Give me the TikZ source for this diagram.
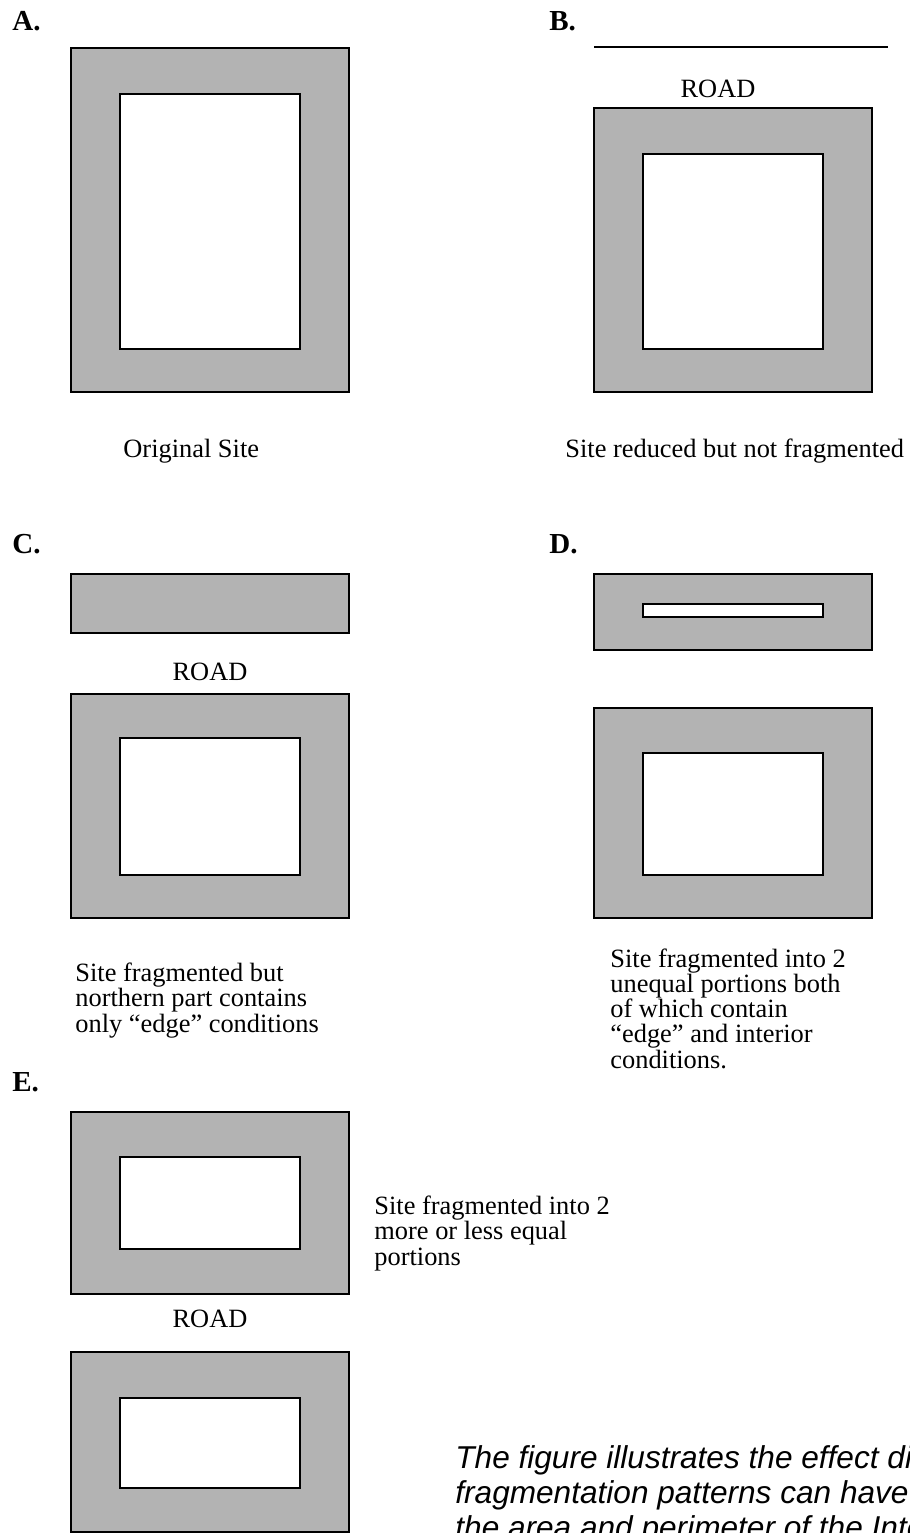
\documentclass[tikz,border=0pt]{standalone}
\usepackage{fontspec}
\setmainfont{Liberation Serif}
\newfontfamily\capfont{Liberation Sans}
\definecolor{boxgray}{RGB}{179,179,179}
\begin{document}
\begin{tikzpicture}[x=0.5pt,y=-0.5pt,
  outerbox/.style={draw=black,fill=boxgray,line width=1pt},
  innerbox/.style={draw=black,fill=white,line width=1pt},
  roadline/.style={draw=black,line width=1pt},
  txt/.style={inner sep=0pt,font=\fontsize{13.2}{12.6}\selectfont},
  lbl/.style={inner sep=0pt,anchor=base west,font=\fontsize{14.5}{14}\selectfont\bfseries},
  captext/.style={txt,anchor=base west,align=left},
  note/.style={inner sep=0pt,anchor=base west,align=left,font=\fontsize{15.8}{17.5}\selectfont\capfont\itshape}]
\useasboundingbox (0,0) rectangle (910,1533);
\clip (0,0) rectangle (910,1533);
% A
\node[lbl] (la) at (12,30) {A.};
\draw[outerbox] (71,48) rectangle (349,392);
\draw[innerbox] (120,94) rectangle (300,349);
\node[txt,anchor=base west] (capa) at (123,457) {Original Site};
% B
\node[lbl] (lb) at (549,30) {B.};
\draw[roadline] (594,47) -- (888,47);
\node[txt,anchor=base] (roadb) at (718,97) {ROAD};
\draw[outerbox] (594,108) rectangle (872,392);
\draw[innerbox] (643,154) rectangle (823,349);
\node[txt,anchor=base west] (capb) at (565,457) {Site reduced but not fragmented};
% C
\node[lbl] (lc) at (12,553) {C.};
\draw[outerbox] (71,574) rectangle (349,633);
\node[txt,anchor=base] (roadc) at (210,680) {ROAD};
\draw[outerbox] (71,694) rectangle (349,918);
\draw[innerbox] (120,738) rectangle (300,875);
\node[captext] (capc) at (75,1032) {Site fragmented but\\northern part contains\\only “edge” conditions};
% D
\node[lbl] (ld) at (549,553) {D.};
\draw[outerbox] (594,574) rectangle (872,650);
\draw[innerbox] (643,604) rectangle (823,617);
\draw[outerbox] (594,708) rectangle (872,918);
\draw[innerbox] (643,753) rectangle (823,875);
\node[captext] (capd) at (610,1068) {Site fragmented into 2\\unequal portions both\\of which contain\\“edge” and interior\\conditions.};
% E
\node[lbl] (le) at (12,1091) {E.};
\draw[outerbox] (71,1112) rectangle (349,1294);
\draw[innerbox] (120,1157) rectangle (300,1249);
\node[captext] (cape) at (374,1265) {Site fragmented into 2\\more or less equal\\portions};
\node[txt,anchor=base] (roade) at (210,1327) {ROAD};
\draw[outerbox] (71,1352) rectangle (349,1532);
\draw[innerbox] (120,1398) rectangle (300,1488);
\node[note] (fignote) at (455,1538) {The figure illustrates the effect different\\fragmentation patterns can have on\\the area and perimeter of the Interior};
\end{tikzpicture}
\end{document}
